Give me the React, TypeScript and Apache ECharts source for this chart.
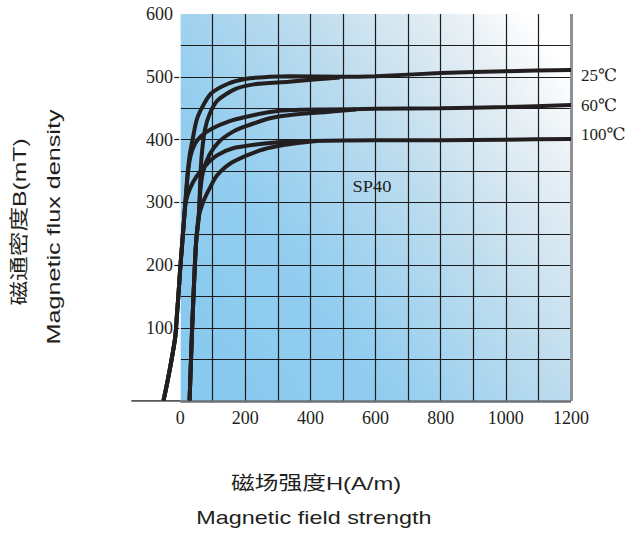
import React, { useEffect, useRef } from "react";
import * as echarts from "echarts";

// ---- data (H in A/m, B in mT) ----
const xMin = -200;
const xMax = 1200;
const yMin = -16;
const yMax = 600;
const xGridLines = [100, 200, 300, 400, 500, 600, 700, 800, 900, 1000, 1100];
const yGridLines = [50, 100, 150, 200, 250, 300, 350, 400, 450, 500, 550];
const yTickValues = [100, 200, 300, 400, 500];

const H_25_upper = [-51, -40, -28, -15, -10, -5, 0, 6, 12, 17, 23, 30, 40, 50, 63, 94, 147, 203, 273, 333, 500, 600, 800, 1000, 1200];
const B_25_upper = [-15, 12, 45, 86, 120, 155, 193, 233, 273, 306, 346, 378, 405, 430, 447, 473, 489, 497, 500, 501, 500, 501, 506, 509, 511];

const H_60_upper = [-51, -40, -28, -15, -10, -5, 0, 6, 12, 17, 23, 31, 45, 65, 100, 150, 200, 276, 340, 450, 600, 800, 1000, 1200];
const B_60_upper = [-15, 12, 45, 86, 120, 155, 193, 233, 273, 306, 343, 372, 393, 406, 418, 429, 436, 444, 447, 448, 449, 450, 452, 455];

const H_100_upper = [-51, -40, -28, -15, -10, -5, 0, 6, 12, 17, 30, 50, 80, 113, 160, 245, 300, 400, 600, 800, 1000, 1200];
const B_100_upper = [-15, 12, 45, 86, 120, 155, 193, 233, 273, 300, 322, 341, 360, 375, 386, 393, 396, 398, 399, 399, 400, 401];

const H_25_lower = [29, 33, 37, 43, 49, 57, 63, 68, 77, 90, 114, 167, 226, 333, 420, 490];
const B_25_lower = [-15, 45, 102, 175, 237, 277, 350, 385, 418, 440, 462, 480, 488, 492, 496, 499];

const H_60_lower = [29, 33, 37, 43, 49, 57, 62, 70, 90, 120, 160, 200, 276, 350, 450, 540];
const B_60_lower = [-15, 45, 102, 175, 237, 277, 318, 348, 376, 397, 412, 421, 434, 440, 444, 448];

const H_100_lower = [29, 33, 37, 43, 49, 57, 70, 90, 113, 160, 245, 300, 350, 420];
const B_100_lower = [-15, 45, 102, 175, 237, 277, 300, 322, 343, 364, 383, 390, 394, 398];

const baseH = [-150, 0];
const tickStubH = [-18, 0];

const curveLabels = ["25℃", "60℃", "100℃"];
const materialLabel = "SP40";

const zip = (h: number[], b: number[]) => h.map((v, i) => [v, b[i]]);

export default function App() {
  const ref = useRef<HTMLDivElement>(null);
  useEffect(() => {
    if (!ref.current) return;
    const chart = echarts.init(ref.current, undefined, { renderer: "svg" });
    const ink = "#231f20";
    const curve = (name: string, h: number[], b: number[]) => ({
      name,
      type: "line",
      data: zip(h, b),
      showSymbol: false,
      symbol: "none",
      smooth: 0.25,
      z: 3,
      lineStyle: { color: ink, width: 4 },
      silent: true,
    });
    const gridLine = { color: "#1c1c1c", width: 1.2, type: "solid" };
    const option: any = {
      animation: false,
      grid: { left: 115, right: 56, top: 14, bottom: 132 },
      xAxis: {
        type: "value",
        min: xMin,
        max: xMax,
        interval: 200,
        axisLine: { show: false },
        axisTick: { show: false },
        splitLine: { show: false },
        axisLabel: {
          fontFamily: "Liberation Serif",
          fontSize: 18,
          color: ink,
          margin: 8,
          formatter: (v: number) => (v < 0 ? "" : String(v)),
        },
      },
      yAxis: {
        type: "value",
        min: yMin,
        max: yMax,
        splitNumber: 6,
        offset: -65,
        axisLine: { show: false },
        axisTick: { show: false },
        splitLine: { show: false },
        axisLabel: {
          fontFamily: "Liberation Serif",
          fontSize: 18,
          color: ink,
          margin: 7,
          formatter: (v: number) => (v <= 0 ? "" : String(v)),
        },
      },
      graphic: [
        {
          type: "text",
          z: 100,
          x: 20,
          y: 222,
          rotation: Math.PI / 2,
          scaleX: 1.3,
          style: {
            text: "磁通密度B(mT)",
            font: '19px "Liberation Sans", "Noto Sans CJK SC"',
            fill: ink,
            textAlign: "center",
            textVerticalAlign: "middle",
          },
        },
        {
          type: "text",
          z: 100,
          x: 54,
          y: 227,
          rotation: Math.PI / 2,
          scaleX: 1.4,
          style: {
            text: "Magnetic flux density",
            font: '18px "Liberation Sans"',
            fill: ink,
            textAlign: "center",
            textVerticalAlign: "middle",
          },
        },
        {
          type: "text",
          z: 100,
          x: 316,
          y: 484,
          scaleX: 1.25,
          style: {
            text: "磁场强度H(A/m)",
            font: '19px "Liberation Sans", "Noto Sans CJK SC"',
            fill: ink,
            textAlign: "center",
            textVerticalAlign: "middle",
          },
        },
        {
          type: "text",
          z: 100,
          x: 314,
          y: 518,
          scaleX: 1.3,
          style: {
            text: "Magnetic field strength",
            font: '18px "Liberation Sans"',
            fill: ink,
            textAlign: "center",
            textVerticalAlign: "middle",
          },
        },
        ...curveLabels.map((t, i) => ({
          type: "text",
          z: 100,
          x: 581,
          y: [75, 105, 134][i],
          style: {
            text: t,
            font: '17px "Liberation Serif", "DejaVu Serif"',
            fill: ink,
            textAlign: "left",
            textVerticalAlign: "middle",
          },
        })),
        {
          type: "text",
          z: 100,
          x: 372,
          y: 187,
          scaleX: 1.15,
          style: {
            text: materialLabel,
            font: '16px "Liberation Serif"',
            fill: ink,
            textAlign: "center",
            textVerticalAlign: "middle",
          },
        },
      ],
      series: [
        {
          name: "base",
          type: "line",
          data: baseH.map((h) => [h, yMin]),
          symbol: "none",
          z: 1,
          silent: true,
          lineStyle: { color: ink, width: 1.3 },
          markArea: {
            silent: true,
            z: 0,
            itemStyle: {
              color: new echarts.graphic.LinearGradient(0, 0.85, 1, 0.15, [
                { offset: 0, color: "#88c9ef" },
                { offset: 0.3, color: "#92cdef" },
                { offset: 0.6, color: "#bddcee" },
                { offset: 0.85, color: "#e5eef4" },
                { offset: 1, color: "#ffffff" },
              ]),
            },
            data: [[{ coord: [0, yMin] }, { coord: [xMax, yMax] }]],
          },
          markLine: {
            silent: true,
            z: 1,
            symbol: ["none", "none"],
            label: { show: false },
            lineStyle: gridLine,
            data: [
              ...xGridLines.map((v) => [{ coord: [v, yMin] }, { coord: [v, yMax] }]),
              ...yGridLines.map((v) => [{ coord: [0, v] }, { coord: [xMax, v] }]),
              ...yTickValues.map((v) => [{ coord: [tickStubH[0], v] }, { coord: [tickStubH[1], v] }]),
              [
                { coord: [0, yMin], lineStyle: { color: "#f4f9fc", width: 1.5, type: "solid" } },
                { coord: [0, yMax] },
              ],
              [
                { coord: [xMax, yMin], lineStyle: { color: "#8e9296", width: 3, type: "solid" } },
                { coord: [xMax, yMax] },
              ],
              [
                { coord: [0, yMin], lineStyle: { color: "#6d7174", width: 2.5, type: "solid" } },
                { coord: [xMax, yMin] },
              ],
            ],
          },
        },
        curve("25℃ upper", H_25_upper, B_25_upper),
        curve("25℃ lower", H_25_lower, B_25_lower),
        curve("60℃ upper", H_60_upper, B_60_upper),
        curve("60℃ lower", H_60_lower, B_60_lower),
        curve("100℃ upper", H_100_upper, B_100_upper),
        curve("100℃ lower", H_100_lower, B_100_lower),
      ],
    };
    chart.setOption(option);
    return () => chart.dispose();
  }, []);
  return <div ref={ref} style={{ width: 627, height: 533, position: "absolute", left: 0, top: 0 }} />;
}
